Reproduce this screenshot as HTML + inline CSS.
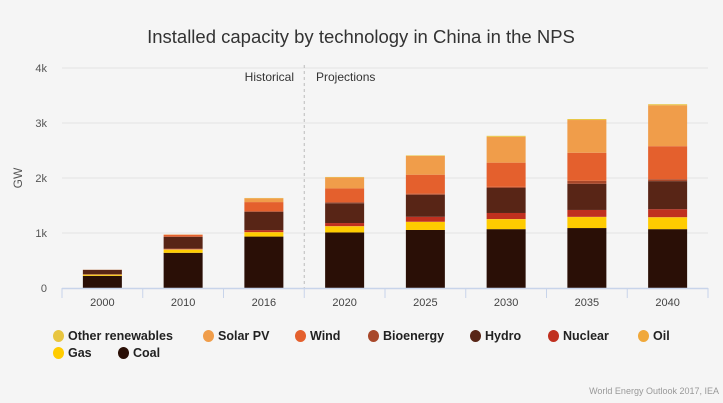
<!DOCTYPE html>
<html><head><meta charset="utf-8"><style>
body{margin:0;background:#f5f5f5;font-family:"Liberation Sans",sans-serif;}
#wrap{position:relative;width:723px;height:403px;background:#f5f5f5;overflow:hidden}
.leg{position:absolute;font-size:12.5px;font-weight:bold;color:#222;height:16px;line-height:16px}
.leg i{position:absolute;left:-15px;top:2px;width:11px;height:12px;border-radius:50%}
</style></head><body>
<div id="wrap">
<svg id="svg" width="723" height="403" style="position:absolute;left:0;top:0">
<text x="361" y="43" text-anchor="middle" font-size="18.5" fill="#333" font-family="Liberation Sans, sans-serif">Installed capacity by technology in China in the NPS</text>
<text transform="translate(22,178) rotate(-90)" text-anchor="middle" font-size="12" fill="#555" font-family="Liberation Sans, sans-serif">GW</text>
<text x="294" y="81" text-anchor="end" font-size="12" fill="#333" font-family="Liberation Sans, sans-serif">Historical</text>
<text x="316" y="81" font-size="12" fill="#333" font-family="Liberation Sans, sans-serif">Projections</text>
<text x="719" y="394" text-anchor="end" font-size="9" fill="#999" font-family="Liberation Sans, sans-serif">World Energy Outlook 2017, IEA</text>
</svg>
<div id="legend"></div>
</div>
<script>
const categories=["2000","2010","2016","2020","2025","2030","2035","2040"];
const seriesNames=["Coal","Gas","Oil","Nuclear","Hydro","Bioenergy","Wind","Solar PV","Other renewables"];
const coal=[220,640,935,1010,1055,1070,1090,1070];
const gas=[15,55,75,110,145,180,200,215];
const oil=[12,10,8,6,5,4,4,3];
const nuclear=[2,10,34,55,90,110,125,145];
const hydro=[80,215,330,360,400,455,475,510];
const bioenergy=[2,5,15,20,20,20,55,35];
const wind=[1,35,165,250,345,440,510,600];
const solar=[0,1,70,200,340,470,595,745];
const other=[1,2,5,8,10,18,18,18];
const yTicks=[0,1000,2000,3000,4000];
const yTickLabels=["0","1k","2k","3k","4k"];
const colors=["#2a0f06","#ffcc00","#f0a83a","#c0301f","#582516","#a8482a","#e4602d","#f09d4a","#e8c540"];
const series=[coal,gas,oil,nuclear,hydro,bioenergy,wind,solar,other];
const svg=document.getElementById('svg');
const NS="http://www.w3.org/2000/svg";
const x0=62,x1=708,y0=288,y1=68,yMax=4000;
const band=(x1-x0)/categories.length;
const xs=i=>x0+band*i+band/2;
const ys=v=>y0-(v/yMax)*(y0-y1);
function mk(tag,a){const e=document.createElementNS(NS,tag);for(const k in a)e.setAttribute(k,a[k]);svg.appendChild(e);return e;}
yTicks.forEach((t,i)=>{
 if(t>0){const g=mk('line',{x1:x0,x2:x1,y1:ys(t),y2:ys(t),stroke:'#e2e2e2','stroke-width':1});
 
 }
 const l=mk('text',{x:47,y:ys(t)+4,'text-anchor':'end','font-size':11,fill:'#555','font-family':'Liberation Sans, sans-serif'});
 l.textContent=yTickLabels[i];
 
 
});
const dl=mk('line',{x1:x0+band*3,x2:x0+band*3,y1:65,y2:y0,stroke:'#bbb','stroke-dasharray':'3,3'});


categories.forEach((c,i)=>{
 let acc=0;
 series.forEach((s,k)=>{
  const v=s[i];const r=mk('rect',{x:xs(i)-19.5,width:39,y:ys(acc+v),height:ys(acc)-ys(acc+v),fill:colors[k]});
  
  
  acc+=v;
 });
 const t=mk('text',{x:xs(i),y:306,'text-anchor':'middle','font-size':11,fill:'#444','font-family':'Liberation Sans, sans-serif'});
 t.textContent=c;
 
 
 const tk=mk('line',{x1:x0+band*i,x2:x0+band*i,y1:y0,y2:y0+10,stroke:'#c8d4ea'});
 
 
});
const tk=mk('line',{x1:x1,x2:x1,y1:y0,y2:y0+10,stroke:'#c8d4ea'});


const ax=mk('line',{x1:x0,x2:x1,y1:y0+0.5,y2:y0+0.5,stroke:'#c8d4ea','stroke-width':1.5});


const legendItems=[["Other renewables",8,68,336],["Solar PV",7,218,336],["Wind",6,310,336],["Bioenergy",5,383,336],["Hydro",4,485,336],["Nuclear",3,563,336],["Oil",2,653,336],["Gas",1,68,353],["Coal",0,133,353]];
const lg=document.getElementById('legend');
legendItems.forEach(([n,k,x,y])=>{
 const d=document.createElement('div');d.className='leg';d.style.left=x+'px';d.style.top=(y-8)+'px';
 d.innerHTML='<i style="background:'+colors[k]+'"></i>'+n;
 
 
 lg.appendChild(d);
});
</script>
</body></html>
